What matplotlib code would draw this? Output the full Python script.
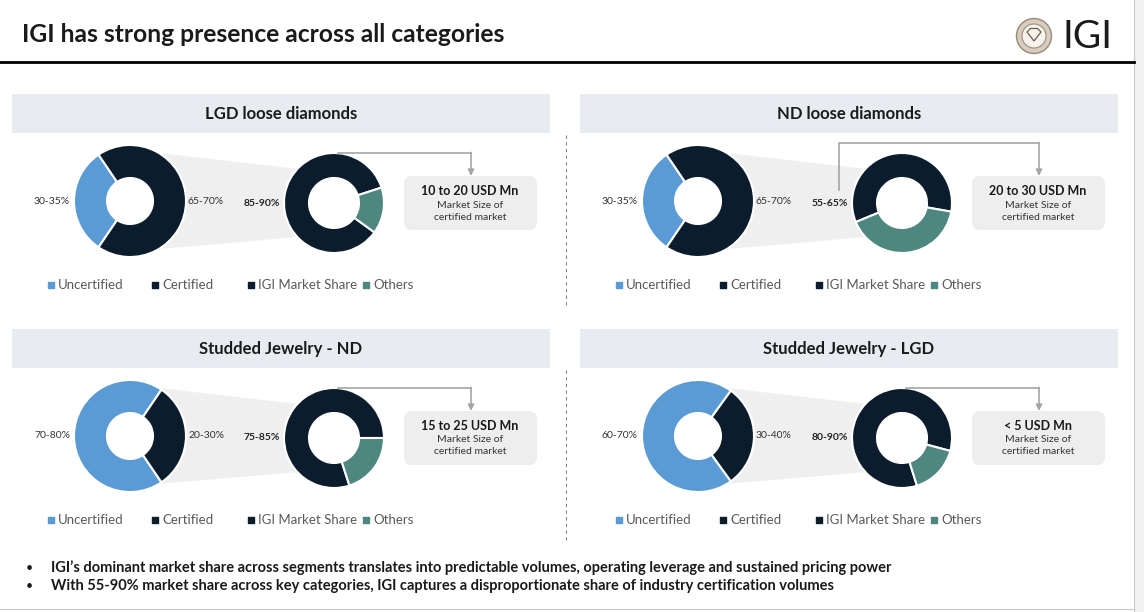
import numpy as np
import matplotlib.pyplot as plt
from matplotlib.patches import Polygon, FancyBboxPatch, Rectangle, Circle

W, H = 1144, 612
plt.rcParams["font.family"] = ["Lato", "DejaVu Sans"]

# ---- data ----
panel_titles = ["LGD loose diamonds", "ND loose diamonds",
                "Studded Jewelry - ND", "Studded Jewelry - LGD"]
uncertified_share = [31, 31, 69, 70]
certified_share = [69, 69, 31, 30]
uncertified_labels = ["30-35%", "30-35%", "70-80%", "60-70%"]
certified_labels = ["65-70%", "65-70%", "20-30%", "30-40%"]
igi_share = [85, 59, 80, 84]
others_share = [15, 41, 20, 16]
igi_labels = ["85-90%", "55-65%", "75-85%", "80-90%"]
market_size = ["10 to 20 USD Mn", "20 to 30 USD Mn", "15 to 25 USD Mn", "< 5 USD Mn"]
legend_labels = ["Uncertified", "Certified", "IGI Market Share", "Others"]
bullets = [
    "IGI\u2019s dominant market share across segments translates into predictable volumes, "
    "operating leverage and sustained pricing power",
    "With 55-90% market share across key categories, IGI captures a disproportionate share "
    "of industry certification volumes",
]

# ---- styling / layout ----
BLUE = "#5B9BD5"
NAVY = "#0B1C2C"
TEAL = "#4E8680"
HEADER_BG = "#E8ECF0"
LINK_BG = "#EFEFEF"
BOX_BG = "#EEEEEE"
ARROW = "#A5A5A5"
TXT = "#1A1A1A"
LEG_TXT = "#595959"

origins = [(0, 0), (568, 0), (0, 235), (568, 235)]
igi_start = [18, -10, 0, -15]
legend_x = [51, 155, 251, 366]
legend_colors = [BLUE, NAVY, NAVY, TEAL]
R1, HOLE1 = 56, 23
R2, HOLE2 = 50, 25


def Y(y):
    return H - y


def on_circle(cx, cy, r, deg):
    a = np.radians(deg)
    return (cx + r * np.cos(a), Y(cy) + r * np.sin(a))


fig = plt.figure(figsize=(W / 100, H / 100), dpi=100)
ax = fig.add_axes([0, 0, 1, 1])

# page frame
ax.add_patch(Rectangle((1134, 0), 10, H, fc="#F2F2F2", ec="none", zorder=0))
ax.plot([1134, 1134], [0, H], color="#C9C9C9", lw=0.8)
ax.plot([0, 1134], [Y(609), Y(609)], color="#C9C9C9", lw=0.8)

# title + rule
ax.text(22, Y(35), "IGI has strong presence across all categories", fontsize=17.7,
        fontweight="bold", color=TXT, va="center", ha="left")
ax.plot([0, 1134], [Y(62), Y(62)], color="black", lw=2)

# logo
ax.add_patch(Circle((1034, Y(36)), 17.5, fc="#D6CCBF", ec="#9A8A77", lw=1.0, zorder=3))
ax.add_patch(Circle((1034, Y(36)), 12, fc="#F6F2EC", ec="#A08F7C", lw=0.8, zorder=4))
ax.add_patch(Polygon([(1027, Y(32)), (1030.5, Y(28.5)), (1037.5, Y(28.5)), (1041, Y(32)),
                      (1034, Y(41))],
                     closed=True, fc="none", ec="#6E6050", lw=0.9, zorder=5))
ax.text(1063, Y(37), "IGI", fontsize=28, fontweight="normal", color="#1A1A1A",
        va="center", ha="left")

# separators
ax.plot([566, 566], [Y(135), Y(305)], color="#7A8A99", lw=0.8, ls=(0, (3, 3)))
ax.plot([566, 566], [Y(370), Y(543)], color="#7A8A99", lw=0.8, ls=(0, (3, 3)))

for i, (ox, oy) in enumerate(origins):
    c1x, c1y = ox + 130, oy + 201
    c2x, c2y = ox + 334, oy + 203

    # header band
    ax.add_patch(Rectangle((ox + 12, Y(oy + 133)), 538, 39, fc=HEADER_BG, ec="none", zorder=1))
    ax.text(ox + 281, Y(oy + 114), panel_titles[i], fontsize=12, fontweight="bold",
            color=TXT, ha="center", va="center", zorder=2)

    # grey link between the two rings
    link = [on_circle(c1x, c1y, R1, 59), on_circle(c2x, c2y, R2, 137),
            on_circle(c2x, c2y, R2, 223), on_circle(c1x, c1y, R1, -59)]
    ax.add_patch(Polygon(link, closed=True, fc=LINK_BG, ec="none", zorder=1))

    # certified vs uncertified ring
    u = uncertified_share[i]
    ax.pie([u, certified_share[i]], colors=[BLUE, NAVY], radius=R1,
           center=(c1x, Y(c1y)), startangle=180 - u * 3.6 / 2, counterclock=True,
           wedgeprops=dict(width=R1 - HOLE1, edgecolor="white", linewidth=1.5), frame=True)

    # IGI share of certified ring
    ax.pie([igi_share[i], others_share[i]], colors=[NAVY, TEAL], radius=R2,
           center=(c2x, Y(c2y)), startangle=igi_start[i], counterclock=True,
           wedgeprops=dict(width=R2 - HOLE2, edgecolor="white", linewidth=1.5), frame=True)

    ax.text(c1x - R1 - 4, Y(c1y), uncertified_labels[i], fontsize=7.5, color="#333333",
            ha="right", va="center", zorder=5)
    ax.text(c1x + R1 + 2, Y(c1y), certified_labels[i], fontsize=7.5, color="#333333",
            ha="left", va="center", zorder=5)
    ax.text(c2x - R2 - 4, Y(c2y), igi_labels[i], fontsize=7.5, fontweight="bold",
            color="#222222", ha="right", va="center", zorder=5)

    # call-out box
    ax.add_patch(FancyBboxPatch((ox + 404, Y(oy + 230)), 133, 54,
                                boxstyle="round,pad=0,rounding_size=8",
                                fc=BOX_BG, ec="none", zorder=2))
    ax.text(ox + 470, Y(oy + 191), market_size[i], fontsize=9, fontweight="bold",
            color=TXT, ha="center", va="center", zorder=3)
    ax.text(ox + 470, Y(oy + 205), "Market Size of", fontsize=7.5, color="#333333",
            ha="center", va="center", zorder=3)
    ax.text(ox + 470, Y(oy + 217), "certified market", fontsize=7.5, color="#333333",
            ha="center", va="center", zorder=3)

    # connector arrow
    ax_x = ox + 471
    if i == 1:
        sx = c2x - 63
        ax.plot([sx, sx, ax_x], [Y(oy + 190), Y(oy + 143), Y(oy + 143)],
                color=ARROW, lw=1.2, zorder=2)
        top = oy + 143
    else:
        top = c2y - R2
        ax.plot([c2x + 4, ax_x], [Y(top), Y(top)], color=ARROW, lw=1.2, zorder=6)
    ax.annotate("", xy=(ax_x, Y(oy + 176)), xytext=(ax_x, Y(top) + 0.6),
                arrowprops=dict(arrowstyle="-|>", color=ARROW, lw=1.2,
                                mutation_scale=9, shrinkA=0, shrinkB=0), zorder=6)

    # legend
    ly = oy + 285
    for lx, lab, col in zip(legend_x, legend_labels, legend_colors):
        ax.scatter([ox + lx], [Y(ly)], marker="s", s=14, color=col, zorder=5)
        ax.text(ox + lx + 7, Y(ly), lab, fontsize=9.5, color=LEG_TXT,
                ha="left", va="center", zorder=5)

# takeaways
for k, line in enumerate(bullets):
    yy = Y(568 + 18 * k)
    ax.text(26, yy, "\u2022", fontsize=9, color=TXT, ha="left", va="center")
    ax.text(51, yy, line, fontsize=10.55, fontweight="bold", color=TXT, ha="left", va="center")

ax.set_xlim(0, W)
ax.set_ylim(0, H)
ax.set_aspect("equal")
ax.axis("off")
fig.savefig("out.png", dpi=100)
